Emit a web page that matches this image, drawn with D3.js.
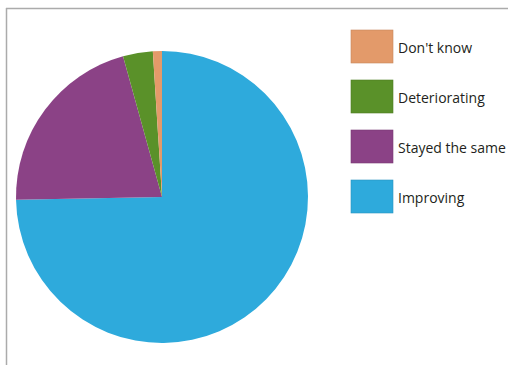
<!DOCTYPE html>
<html>
<head>
<meta charset="utf-8">
<script src="https://cdn.jsdelivr.net/npm/d3@7"></script>
<style>
  body { margin: 0; background: #fff; }
  svg { display: block; }
</style>
</head>
<body>
<div id="chart"></div>
<script>
// pie data, in drawing order (clockwise from 12 o'clock)
const categories = ["Improving", "Stayed the same", "Deteriorating", "Don't know"];
const values = [74.7, 21.0, 3.3, 1.0];
const colors = ["#2eaadc", "#8b4286", "#5a9129", "#e39a6a"];
// legend order, top to bottom
const legendOrder = ["Don't know", "Deteriorating", "Stayed the same", "Improving"];

const width = 508, height = 365;
const cx = 162, cy = 197, radius = 146;

let svg = d3.select("#chart").append("svg")
  .attr("width", width)
  .attr("height", height);

// frame lines (top and left)
svg.append("line")
  .attr("x1", 6).attr("x2", width)
  .attr("y1", 8.5).attr("y2", 8.5)
  .attr("stroke", "#ababab").attr("stroke-width", 1.5);
svg.append("line")
  .attr("x1", 6.5).attr("x2", 6.5)
  .attr("y1", 8).attr("y2", height)
  .attr("stroke", "#ababab").attr("stroke-width", 1.5);

let color = d3.scaleOrdinal().domain(categories).range(colors);

let pie = d3.pie().sort(null).value(d => d.value);
let arc = d3.arc().innerRadius(0).outerRadius(radius);

let pieData = pie(categories.map((c, i) => ({ name: c, value: values[i] })));

svg.append("g")
  .attr("transform", "translate(" + cx + "," + cy + ")")
  .selectAll("path")
  .data(pieData)
  .enter().append("path")
  .attr("d", arc)
  .attr("fill", d => color(d.data.name));

// legend
let legendY = d3.scalePoint().domain(legendOrder).range([30, 180]);

let item = svg.selectAll("g.legend")
  .data(legendOrder)
  .enter().append("g")
  .attr("class", "legend")
  .attr("transform", d => "translate(351," + legendY(d) + ")");

item.append("rect")
  .attr("width", 42)
  .attr("height", 33)
  .attr("fill", d => color(d))
  .attr("stroke", d => d3.color(color(d)).darker(0.4))
  .attr("stroke-width", 0.6);

item.append("text")
  .attr("x", 47)
  .attr("y", 23)
  .attr("font-family", "'Open Sans', sans-serif")
  .attr("font-size", "14px")
  .attr("fill", "#231f20")
  .text(d => d);
</script>
</body>
</html>
